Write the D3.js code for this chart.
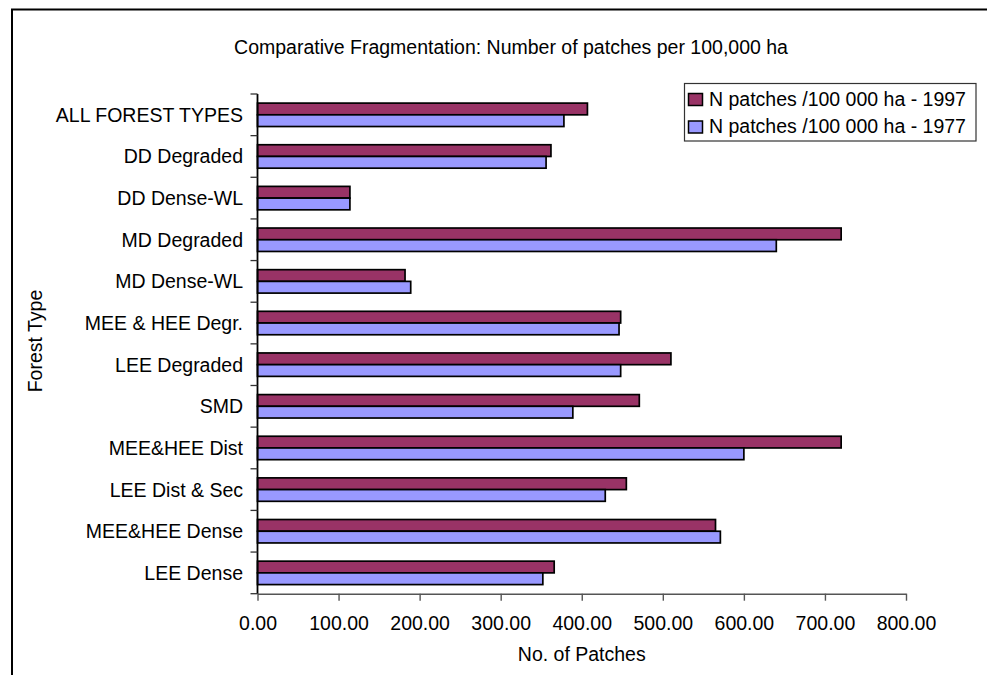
<!DOCTYPE html>
<html>
<head>
<meta charset="utf-8">
<script src="https://cdn.jsdelivr.net/npm/d3@7/dist/d3.min.js"></script>
<style>
  html, body { margin: 0; padding: 0; background: #fff; }
  svg { display: block; }
  text { font-family: "Liberation Sans", Arial, sans-serif; fill: #000; }
</style>
</head>
<body>
<svg id="chart" width="987" height="675"></svg>
<script>
const categories = ["ALL FOREST TYPES", "DD Degraded", "DD Dense-WL", "MD Degraded", "MD Dense-WL",
  "MEE & HEE Degr.", "LEE Degraded", "SMD", "MEE&HEE Dist", "LEE Dist & Sec", "MEE&HEE Dense", "LEE Dense"];
const values1997 = [407, 362, 114, 720, 182, 448, 510, 471, 720, 455, 565, 366];
const values1977 = [378, 356, 114, 640, 189, 446, 448, 389, 600, 429, 571, 352];
const seriesNames = ["N patches /100 000 ha - 1997", "N patches /100 000 ha - 1977"];
const seriesColors = ["#993366", "#9999FF"];
const xTicks = [0, 100, 200, 300, 400, 500, 600, 700, 800];
const titleText = "Comparative Fragmentation: Number of patches per 100,000 ha";
const xTitle = "No. of Patches";
const yTitle = "Forest Type";

(function () {
const svg = d3.select("#chart");
const FS = 19.5;

// outer frame (right/bottom edges fall outside the picture)
svg.append("rect").attr("x", 12).attr("y", 9.5).attr("width", 1000).attr("height", 700)
  .attr("fill", "none").attr("stroke", "#000").attr("stroke-width", 2);

const pLeft = 257.5, pRight = 906, pTop = 94, pBottom = 593.7;
const x = d3.scaleLinear().domain([0, 800]).range([pLeft, pRight]);
const y = d3.scaleBand().domain(categories).range([pTop, pBottom]).paddingInner(0.4375).paddingOuter(0.21875);
const sub = d3.scaleBand().domain([0, 1]).range([0, y.bandwidth()]);

// title
svg.append("text").attr("x", 511).attr("y", 54).attr("text-anchor", "middle")
  .style("font-size", FS + "px").text(titleText);

// bars
const rows = categories.map((c, i) => ({c, v: [values1997[i], values1977[i]]}));
const g = svg.append("g");
rows.forEach(r => {
  r.v.forEach((v, k) => {
    g.append("rect")
      .attr("x", x(0))
      .attr("y", y(r.c) + sub(k))
      .attr("width", x(v) - x(0))
      .attr("height", sub.bandwidth())
      .attr("fill", seriesColors[k])
      .attr("stroke", "#000")
      .attr("stroke-width", 1.7);
  });
});

// x axis
const xAxis = d3.axisBottom(x).tickValues(xTicks).tickSize(7).tickSizeOuter(0)
  .tickFormat(d3.format(".2f"));
const gx = svg.append("g").attr("transform", `translate(0,${pBottom})`).call(xAxis);
gx.select(".domain").attr("stroke", "#555").attr("stroke-width", 1.6);
gx.selectAll(".tick line").attr("stroke", "#555").attr("stroke-width", 1.4);
gx.selectAll(".tick text").style("font-size", FS + "px").style("font-family", '"Liberation Sans", Arial, sans-serif')
  .attr("fill", "#000").attr("y", 22).attr("dy", "0.71em");

// y axis
svg.append("line").attr("x1", pLeft).attr("x2", pLeft).attr("y1", pTop).attr("y2", pBottom)
  .attr("stroke", "#000").attr("stroke-width", 1.8);
const gap = (y.step() - y.bandwidth()) / 2;
const bounds = categories.map(c => y(c) - gap).concat([y(categories[categories.length - 1]) + y.bandwidth() + gap]);
svg.append("g").selectAll("line").data(bounds).join("line")
  .attr("x1", pLeft - 7).attr("x2", pLeft).attr("y1", d => d).attr("y2", d => d)
  .attr("stroke", "#333").attr("stroke-width", 1.3);
svg.append("g").selectAll("text").data(categories).join("text")
  .attr("x", 243).attr("y", d => y(d) + y.bandwidth() / 2).attr("dy", "0.36em")
  .attr("text-anchor", "end").style("font-size", FS + "px").text(d => d);

// axis titles
svg.append("text").attr("x", (pLeft + pRight) / 2).attr("y", 661).attr("text-anchor", "middle")
  .style("font-size", FS + "px").text(xTitle);
svg.append("text").attr("transform", `translate(42,341) rotate(-90)`).attr("text-anchor", "middle")
  .style("font-size", FS + "px").text(yTitle);

// legend
const lg = svg.append("g");
lg.append("rect").attr("x", 684.5).attr("y", 83.5).attr("width", 291.5).attr("height", 57.5)
  .attr("fill", "#fff").attr("stroke", "#333").attr("stroke-width", 1.2);
seriesNames.forEach((n, k) => {
  const by = 93.5 + k * 27.5;
  lg.append("rect").attr("x", 688.5).attr("y", by).attr("width", 14).attr("height", 12)
    .attr("fill", seriesColors[k]).attr("stroke", "#000").attr("stroke-width", 1.5);
  lg.append("text").attr("x", 709).attr("y", by + 12.3).style("font-size", FS + "px").text(n);
});
})();
</script>
</body>
</html>
